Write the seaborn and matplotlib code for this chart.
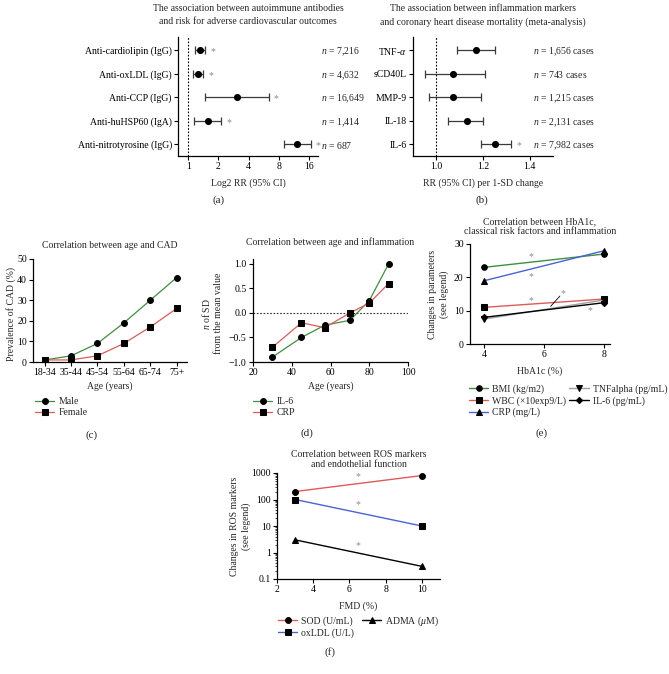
import numpy as np
import pandas as pd
import matplotlib
matplotlib.use("Agg")
import matplotlib.pyplot as plt
import seaborn as sns

# data section

# (a) autoimmune antibodies, RR with 95% CI
ab_labels = ['Anti-cardiolipin (IgG)', 'Anti-oxLDL (IgG)', 'Anti-CCP (IgG)',
             'Anti-huHSP60 (IgA)', 'Anti-nitrotyrosine (IgG)']
ab_rr = [1.30, 1.24, 3.06, 1.57, 12.2]
ab_lo = [1.16, 1.11, 1.47, 1.14, 9.1]
ab_hi = [1.48, 1.40, 6.35, 2.13, 16.7]
ab_n = ['7,216', '4,632', '16,649', '1,414', '687']
ab_sig = [True, True, True, True, True]

# (b) inflammation markers, RR per 1-SD change
inf_labels = ['TNF-$\\alpha$', 'sCD40L', 'MMP-9', 'IL-18', 'IL-6']
inf_rr = [1.17, 1.07, 1.07, 1.13, 1.25]
inf_lo = [1.09, 0.95, 0.97, 1.05, 1.19]
inf_hi = [1.25, 1.21, 1.19, 1.20, 1.32]
inf_n = ['1,656', '743', '1,215', '2,131', '7,982']
inf_sig = [False, False, False, False, True]

# (c) age vs CAD prevalence
age_groups = ['18-34', '35-44', '45-54', '55-64', '65-74', '75+']
cad_male = [1, 3, 9, 19, 30, 41]
cad_female = [1, 1, 3, 9, 17, 26]

# (d) age vs inflammation
ages = [30, 45, 57, 70, 80, 90]
sd_il6 = [-0.9, -0.5, -0.25, -0.15, 0.25, 1.0]
sd_crp = [-0.7, -0.2, -0.3, 0.0, 0.2, 0.6]

# (e) HbA1c vs risk factors
hba1c = [4, 8]
e_bmi = [23, 27]
e_wbc = [11, 13.5]
e_crp = [19, 28]
e_tnf = [7.5, 13.2]
e_il6 = [8, 12.4]

# (f) ROS markers vs FMD
fmd = [3, 10]
f_sod = [200, 800]
f_oxldl = [100, 10]
f_adma = [3, 0.3]

# style section
sns.set_theme(style='ticks')
plt.rcParams['font.family'] = ['Liberation Serif', 'DejaVu Serif']
plt.rcParams['mathtext.fontset'] = 'custom'
plt.rcParams['mathtext.rm'] = 'Liberation Serif'
plt.rcParams['mathtext.it'] = 'Liberation Serif:italic'
plt.rcParams['font.size'] = 7
FS = 7
GREEN = '#3f8f3f'
RED = '#e05a5a'
BLUE = '#4a62d8'
STAR = '#8a8a8a'

W, H = 669, 674
fig = plt.figure(figsize=(W / 100, H / 100), dpi=100)


def box(l, t, r, b):
    return fig.add_axes([l / W, 1 - b / H, (r - l) / W, (b - t) / H])


def style_ax(ax):
    sns.despine(ax=ax)
    for s in ['left', 'bottom']:
        ax.spines[s].set_linewidth(0.9)
        ax.spines[s].set_color('black')
    ax.tick_params(labelsize=FS, length=3, width=0.8, pad=1.5, colors='black')


def legend_below(ax, x, y, ncol=1, colsp=0.5):
    ax.legend(loc='upper left', bbox_to_anchor=(x / W, 1 - y / H),
              bbox_transform=fig.transFigure, frameon=False, fontsize=FS,
              ncol=ncol, handlelength=2.0, handletextpad=0.4,
              labelspacing=0.2, columnspacing=colsp,
              borderaxespad=0, borderpad=0)


def forest(ax, labels, rr, lo, hi, n, sig, n_x, suffix=''):
    df = pd.DataFrame({'label': labels, 'rr': rr, 'lo': lo, 'hi': hi})
    pos = np.arange(len(df))
    ax.errorbar(df['rr'], pos, xerr=[df['rr'] - df['lo'], df['hi'] - df['rr']],
                fmt='none', ecolor='#3a3a3a', elinewidth=0.9, capsize=2.6,
                capthick=0.9, zorder=2)
    sns.scatterplot(x=df['rr'], y=pos, ax=ax, color='black', s=26,
                    edgecolor='black', linewidth=0, zorder=3)
    for i in range(len(df)):
        if sig[i]:
            ax.annotate('*', (df['hi'][i], pos[i]), xytext=(5.5, -1),
                        textcoords='offset points', ha='center', va='center',
                        color=STAR, fontsize=FS)
        ax.text(n_x, pos[i], '$n$ = ' + n[i] + suffix, ha='left',
                va='center_baseline', fontsize=FS, clip_on=False)
    ax.set_yticks(pos)
    ax.set_yticklabels(labels)
    ax.set_ylim(len(df) - 0.5, -0.57)
    ax.axvline(1, color='black', lw=0.8, ls=(0, (1.5, 1.5)), zorder=1)
    ax.set_ylabel('')


# (a)
ax = box(178, 37, 318, 156)
style_ax(ax)
ax.set_xscale('log', base=2)
forest(ax, ab_labels, ab_rr, ab_lo, ab_hi, ab_n, ab_sig, 21.3)
ax.set_xlim(0.79, 19.7)
ax.set_xticks([1, 2, 4, 8, 16])
ax.set_xticklabels(['1', '2', '4', '8', '16'])
ax.minorticks_off()
ax.set_xlabel('Log2 RR (95% CI)', fontsize=FS, labelpad=5)
ax.set_title('The association between autoimmune antibodies\n'
             'and risk for adverse cardiovascular outcomes', fontsize=FS,
             pad=9, linespacing=1.6)

# (b)
ax = box(413, 37, 553, 156)
style_ax(ax)
forest(ax, inf_labels, inf_rr, inf_lo, inf_hi, inf_n, inf_sig, 1.416,
       suffix=' cases')
ax.set_xlim(0.9, 1.5)
ax.set_xticks([1.0, 1.2, 1.4])
ax.set_xticklabels(['1.0', '1.2', '1.4'])
ax.set_xlabel('RR (95% CI) per 1-SD change', fontsize=FS, labelpad=5)
ax.set_title('The association between inflammation markers\n'
             'and coronary heart disease mortality (meta-analysis)',
             fontsize=FS, pad=9, linespacing=1.6)

# (c)
ax = box(33, 259, 187, 362)
style_ax(ax)
idx = np.arange(len(age_groups))
sns.lineplot(x=idx, y=cad_male, ax=ax, color=GREEN, lw=0.9, marker='o',
             markersize=4.2, markerfacecolor='black', markeredgecolor='black',
             label='Male')
sns.lineplot(x=idx, y=cad_female, ax=ax, color=RED, lw=0.9, marker='s',
             markersize=4.2, markerfacecolor='black', markeredgecolor='black',
             label='Female')
ax.set_xticks(idx)
ax.set_xticklabels(age_groups)
ax.set_xlim(-0.44, 5.39)
ax.set_ylim(0, 50)
ax.set_yticks([0, 10, 20, 30, 40, 50])
ax.set_xlabel('Age (years)', fontsize=FS, labelpad=3)
ax.set_ylabel('Prevalence of CAD (%)', fontsize=FS, va='center')
ax.yaxis.set_label_coords(-0.14, 0.47)
ax.set_title('Correlation between age and CAD', fontsize=FS, pad=8)
legend_below(ax, 35, 397)

# (d)
ax = box(253, 259, 408, 362)
style_ax(ax)
sns.lineplot(x=ages, y=sd_il6, ax=ax, color=GREEN, lw=0.9, marker='o',
             markersize=4.2, markerfacecolor='black', markeredgecolor='black',
             label='IL-6')
sns.lineplot(x=ages, y=sd_crp, ax=ax, color=RED, lw=0.9, marker='s',
             markersize=4.2, markerfacecolor='black', markeredgecolor='black',
             label='CRP')
ax.axhline(0, color='#333333', lw=0.8, ls=(0, (1.5, 1.5)), zorder=0)
ax.set_xlim(20, 100)
ax.set_ylim(-1.0, 1.1)
ax.set_xticks([20, 40, 60, 80, 100])
ax.set_yticks([-1.0, -0.5, 0.0, 0.5, 1.0])
ax.set_yticklabels(['\u22121.0', '\u22120.5', '0.0', '0.5', '1.0'])
ax.set_xlabel('Age (years)', fontsize=FS, labelpad=3)
ax.set_ylabel('$n$ of SD\nfrom the mean value', fontsize=FS, va='center',
              linespacing=1.3)
ax.yaxis.set_label_coords(-0.265, 0.47)
ax.set_title('Correlation between age and inflammation', fontsize=FS, pad=10)
legend_below(ax, 253, 397.5)

# (e)
ax = box(470, 244, 610, 344)
style_ax(ax)
series_e = [(e_bmi, 'BMI (kg/m2)', GREEN, 'o'),
            (e_wbc, 'WBC (\u00d710exp9/L)', RED, 's'),
            (e_crp, 'CRP (mg/L)', BLUE, '^'),
            (e_tnf, 'TNFalpha (pg/mL)', '#a0a0a0', 'v'),
            (e_il6, 'IL-6 (pg/mL)', 'black', 'D')]
for vals, lab, col, mk in series_e:
    sns.lineplot(x=hba1c, y=vals, ax=ax, color=col, lw=1.0, marker=mk,
                 markersize=4.0 if mk != 'D' else 3.2,
                 markerfacecolor='black', markeredgecolor='black', label=lab)
for sx, sy in [(5.55, 26.3), (5.55, 20.3), (5.55, 13.0), (6.62, 15.0), (7.52, 10.0)]:
    ax.text(sx, sy, '*', ha='center', va='center', color=STAR, fontsize=FS)
ax.plot([6.21, 6.52], [11.3, 14.4], color='black', lw=0.6)
ax.set_xlim(3.52, 8.19)
ax.set_ylim(0, 30)
ax.set_xticks([4, 6, 8])
ax.set_yticks([0, 10, 20, 30])
ax.set_xlabel('HbA1c (%)', fontsize=FS, labelpad=5)
ax.set_ylabel('Changes in parameters\n(see legend)', fontsize=FS, va='center',
              linespacing=1.3)
ax.yaxis.set_label_coords(-0.225, 0.5)
ax.set_title('Correlation between HbA1c,\nclassical risk factors and inflammation',
             fontsize=FS, pad=7)
legend_below(ax, 469, 384.5, ncol=2, colsp=0.3)

# (f)
ax = box(277, 473, 440, 579)
style_ax(ax)
series_f = [(f_sod, 'SOD (U/mL)', RED, 'o'),
            (f_oxldl, 'oxLDL (U/L)', BLUE, 's'),
            (f_adma, 'ADMA ($\\mu$M)', 'black', '^')]
for vals, lab, col, mk in series_f:
    sns.lineplot(x=fmd, y=vals, ax=ax, color=col, lw=1.0, marker=mk,
                 markersize=4.2, markerfacecolor='black',
                 markeredgecolor='black', label=lab)
ax.set_yscale('log')
for sy in [700, 62, 1.8]:
    ax.text(6.45, sy, '*', ha='center', va='center', color=STAR, fontsize=FS)
ax.set_xlim(2, 11)
ax.set_ylim(0.1, 1000)
ax.set_xticks([2, 4, 6, 8, 10])
ax.set_yticks([0.1, 1, 10, 100, 1000])
ax.set_yticklabels(['0.1', '1', '10', '100', '1000'])
ax.tick_params(axis='y', which='minor', length=1.5, width=0.6)
ax.set_xlabel('FMD (%)', fontsize=FS, labelpad=5)
ax.set_ylabel('Changes in ROS markers\n(see legend)', fontsize=FS, va='center',
              linespacing=1.3)
ax.yaxis.set_label_coords(-0.224, 0.5)
ax.set_title('Correlation between ROS markers\nand endothelial function',
             fontsize=FS, pad=4)
legend_below(ax, 278, 614.5, ncol=2, colsp=0.8)

# panel letters
for lab, x, y in [('(a)', 219, 200), ('(b)', 481.5, 200), ('(c)', 92, 435),
                  ('(d)', 307, 433), ('(e)', 541.5, 433), ('(f)', 330, 652)]:
    fig.text(x / W, 1 - y / H, lab, ha='center', va='center', fontsize=8)

fig.savefig('out.png', dpi=100)
